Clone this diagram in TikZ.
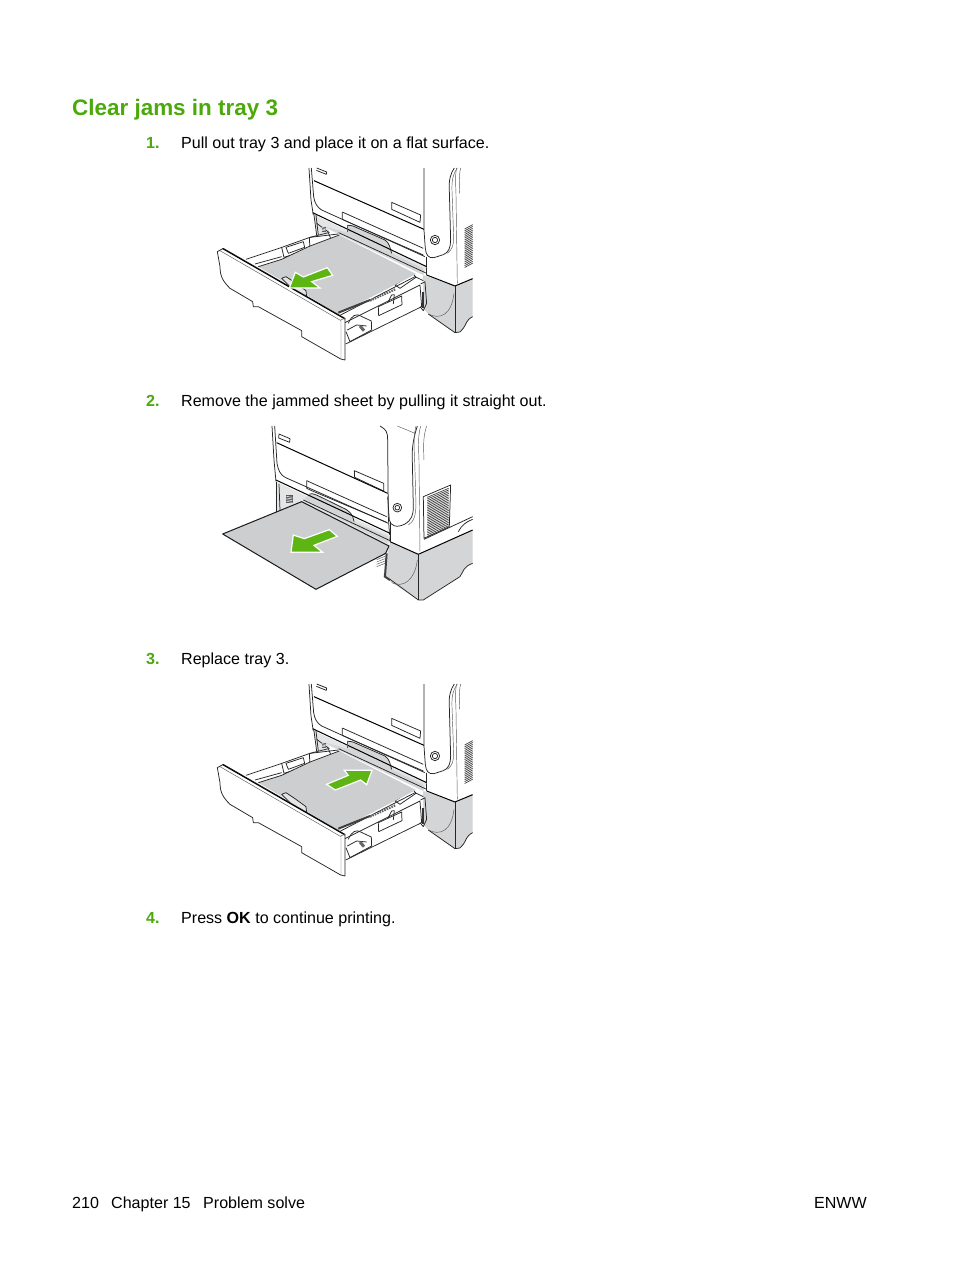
\documentclass[tikz,border=0pt]{standalone}
\usepackage{fontspec}
\setmainfont{Liberation Sans}
\definecolor{hpgreen}{HTML}{4BA90B}
\definecolor{arrowgreen}{HTML}{5CB512}
\definecolor{papergray}{HTML}{CDCECF}
\definecolor{basegray}{HTML}{D4D5D6}
\definecolor{lightband}{HTML}{E4E5E6}
\tikzset{
  bodytext/.style={anchor=base west,inner sep=0pt,font=\fontsize{16.07}{18}\selectfont},
  numtext/.style={anchor=base west,inner sep=0pt,text=hpgreen,font=\fontsize{16.07}{18}\selectfont\bfseries},
  titletext/.style={anchor=base west,inner sep=0pt,text=hpgreen,font=\fontsize{22.45}{26}\selectfont\bfseries},
  ln/.style={draw=black!85,line width=0.75pt,line join=round},
  thn/.style={draw=black!65,line width=0.45pt,line join=round},
  thk/.style={draw=black,line width=1.0pt,line join=round},
  vent/.style={draw=black!75,line width=0.7pt},
  greenarrow/.style={fill=arrowgreen,draw=white,line width=1.2pt,line join=miter},
}
\newcommand{\trayart}{%
  % lower base
  \path[fill=basegray] (640,345) -- (735,378) -- (788,356) -- (788,470) .. controls (768,480) and (768,495) .. (760,505) -- (750,516) -- (735,518) -- (655,462) -- (635,440) -- cycle;
  \draw[thk] (650,345) -- (735,378) -- (788,356);
  \draw[ln] (735,378) -- (735,518);
  \draw[ln] (655,462) -- (735,518) -- (750,516) -- (760,505) .. controls (768,495) and (768,480) .. (788,470);
  \draw[thn] (655,462) .. controls (690,480) and (725,465) .. (732,400);
  % printer front
  \draw[ln] (297,24) -- (303,120) -- (310,165);
  \draw[ln] (304,24) -- (311,110) .. controls (314,130) and (322,142) .. (335,150) -- (645,290);
  \draw[thk] (312,62) -- (642,208);
  \draw[ln] (642,24) -- (642,210) -- (646,265) .. controls (648,285) and (655,295) .. (672,293) -- (700,284) .. controls (716,278) and (722,262) .. (722,240) -- (718,90) .. controls (716,60) and (722,40) .. (733,24);
  \draw[thn] (712,280) .. controls (726,270) and (732,255) .. (731,230) -- (726,90) .. controls (725,60) and (730,40) .. (742,24);
  \draw[thn] (740,24) .. controls (735,45) and (737,70) .. (738,100) -- (742,370);
  \draw[thn] (752,24) .. controls (746,50) and (748,70) .. (749,100);
  \draw[ln] (650,290) -- (650,345);
  \draw[ln] (545,127) -- (632,165) -- (630,187) -- (545,148) -- cycle;
  \draw[ln] (320,24) -- (350,36) -- (349,43) -- (319,31);
  % recess
  \draw[ln] (397,156) -- (640,265);
  \draw[ln] (397,156) -- (397,178) -- (414,186) -- (640,285);
  \path[fill=lightband] (312,165) -- (650,320) -- (640,345) -- (322,192) -- cycle;
  \path[fill=lightband] (310,160) -- (358,190) -- (358,222) -- (322,232) -- cycle;
  \path[fill=basegray] (412,196) .. controls (425,195) and (435,200) .. (445,205) -- (525,240) .. controls (540,250) and (540,265) .. (545,280) -- (640,325) -- (640,345) -- (390,222) -- (340,198) -- (412,218) -- cycle;
  \draw[ln] (412,196) .. controls (425,195) and (435,200) .. (445,205) -- (525,240) .. controls (540,250) and (540,265) .. (545,280);
  \draw[thk] (308,158) -- (650,320);
  \draw[ln] (386,218) -- (650,340);
  \draw[thn] (412,196) -- (412,216);
  \draw[ln] (311,158) -- (320,225);
  \draw[ln] (318,165) -- (325,225);
  % button
  \draw[ln] (675,240) circle[radius=14];
  \draw[ln] (675,240) circle[radius=8];
  % vents
  \foreach \i in {0,...,21} {\draw[vent] ({764},{207+\i*5.5}) -- (788,{194+\i*5.5});}
  % tray right wall
  \path[fill=white] (405,480) -- (640,362) -- (638,440) -- (407,552) -- cycle;
  \draw[ln] (405,488) -- (630,375) -- (635,440) -- (407,552);
  \draw[ln] (390,466) -- (615,350) -- (640,362);
  \draw[ln] (632,372) -- (645,365) -- (650,430) -- (640,452) -- (630,440);
  \draw[line width=2pt,black!80] (640,395) -- (640,445);
  \draw[ln] (505,440) -- (575,408) -- (576,434) -- (506,467) -- cycle;
  \draw[ln] (535,425) -- (545,405) -- (553,404) -- (550,432);
  \draw[ln] (415,490) .. controls (425,465) and (440,460) .. (452,468) -- (484,483) -- (485,510) -- (420,545) -- (408,515);
  \draw[ln] (412,510) -- (440,495) -- (470,498);
  \draw[line width=3pt,black!60] (450,498) -- (462,512);
  \draw[ln] (555,375) -- (585,355) -- (610,342) -- (618,352) -- (570,385) -- cycle;
  % tray back and left
  \draw[ln] (108,298) -- (210,264) -- (300,232) -- (385,222);
  \draw[ln] (135,312) -- (215,290);
  \draw[ln] (320,190) -- (358,218);
  \fill[black!65] (335,200) rectangle (348,215);
  \foreach \i in {0,...,2} {\draw[white,line width=0.5pt] (336,{203+\i*4}) -- (347,{205+\i*4});}
  \draw[ln] (215,262) -- (222,292) -- (300,268) -- (298,232);
  \draw[ln] (228,262) -- (280,245) -- (284,262) -- (235,280) -- cycle;
  \draw[ln] (300,232) -- (355,218) -- (362,235);
  % paper
  \path[fill=papergray] \trayPaper;
  \draw[ln] (145,320) -- (215,298) -- (300,258) -- (388,225);
  \draw[line width=2pt,black!75] (385,458) -- (480,420);
  \draw[line width=2.2pt,black!60,dash pattern=on 1.6pt off 1pt] (480,422) -- (556,388);
  % tab
  \draw[ln,fill=lightband] (215,355) -- (228,350) -- (255,368) -- (288,392) -- (290,412) -- (250,390) -- cycle;
  % tray front panel
  \draw[ln,fill=white] (22,275) -- (40,265) -- (405,475) -- (405,600) -- (392,597) -- (275,530) -- (275,512) -- (145,440) -- (130,440) -- (128,425) -- (60,385) .. controls (40,365) and (30,350) .. (30,320) -- cycle;
  \draw[thn] (30,272) -- (393,482) -- (393,597);
  \draw[thk] (38,266) -- (405,477);
  \draw[thn] (392,480) -- (405,475);
}
\newcommand{\trayPaper}{(145,320) -- (215,298) -- (300,258) -- (388,225) -- (618,342) -- (385,462) -- cycle}
\begin{document}
\begin{tikzpicture}[x=1pt,y=-1pt]
\useasboundingbox (0,0) rectangle (954,1270);
\fill[white] (0,0) rectangle (954,1270);
\node[titletext] (title) at (72,115) {Clear jams in tray 3};
\node[numtext] (n1) at (146,148) {1.};
\node[bodytext] (t1) at (181,148) {Pull out tray 3 and place it on a flat surface.};
\node[numtext] (n2) at (146,406) {2.};
\node[bodytext] (t2) at (181,406) {Remove the jammed sheet by pulling it straight out.};
\node[numtext] (n3) at (146,664) {3.};
\node[bodytext] (t3) at (181,664) {Replace tray 3.};
\node[numtext] (n4) at (146,923) {4.};
\node[bodytext] (t4) at (181,923) {Press \textbf{OK} to continue printing.};
\node[bodytext] (f1) at (72,1208) {210};
\node[bodytext] (f2) at (111,1208) {Chapter 15};
\node[bodytext] (f3) at (203,1208) {Problem solve};
\node[bodytext,anchor=base east] (f4) at (867,1208) {ENWW};
% picture 1
\begin{scope}[shift={(210,160)},x=0.3333pt,y=-0.3333pt]
  \trayart
  \draw[greenarrow] (352,323) -- (368,346) -- (305,365) -- (330,384) -- (238,384) -- (256,337) -- (280,351) -- cycle;
\end{scope}
% picture 3
\begin{scope}[shift={(210,676)},x=0.3333pt,y=-0.3333pt]
  \trayart
  \draw[greenarrow] (350,325) -- (415,298) -- (403,283) -- (486,283) -- (470,326) -- (452,312) -- (376,342) -- cycle;
\end{scope}
% picture 2
\begin{scope}[shift={(210,420)},x=0.3333pt,y=-0.3333pt]
  \path[fill=basegray] (540,365) -- (625,403) -- (788,330) -- (788,430) .. controls (760,440) and (760,455) .. (750,470) -- (640,540) -- (625,540) -- (520,470) -- cycle;
  \draw[thk] (540,365) -- (625,403) -- (788,330);
  \draw[ln] (625,403) -- (625,540);
  \draw[ln] (540,478) -- (625,540) -- (640,540) -- (750,470) .. controls (760,455) and (760,440) .. (788,430);
  \draw[thn] (545,488) .. controls (580,505) and (615,480) .. (622,420);
  % printer front
  \draw[ln] (186,18) -- (192,120) -- (198,185);
  \draw[ln] (194,18) -- (201,130) .. controls (204,150) and (212,165) .. (225,172) -- (535,310);
  \draw[thk] (200,68) -- (533,220);
  \draw[ln] (510,18) .. controls (528,28) and (533,35) .. (533,60) -- (535,290) -- (540,365);
  \draw[ln] (540,310) -- (540,365);
  \draw[ln] (533,230) -- (538,300) .. controls (542,318) and (560,325) .. (585,312) .. controls (605,300) and (610,285) .. (610,260) -- (607,120) .. controls (605,80) and (612,50) .. (622,18);
  \draw[thn] (618,18) .. controls (610,50) and (612,80) .. (614,120) -- (618,250) .. controls (618,285) and (612,305) .. (595,315);
  \draw[thn] (632,18) .. controls (624,50) and (625,70) .. (627,120) -- (630,395);
  \draw[thn] (650,18) .. controls (640,50) and (640,70) .. (642,120);
  \draw[thn] (562,18) -- (615,40);
  \draw[ln] (642,355) -- (640,230) -- (722,195) -- (718,320) -- cycle;
  \draw[ln] (642,358) -- (788,290);
  \foreach \i in {0,...,23} {\draw[vent] (652,{232+\i*5.1}) -- (716,{205+\i*5.1});}
  \draw[ln] (745,335) .. controls (755,315) and (770,305) .. (788,298);
  \draw[ln] (433,152) -- (521,190) -- (521,213) -- (434,172) -- cycle;
  \draw[ln] (207,42) -- (240,56) -- (239,67) -- (206,54) -- cycle;
  \draw[ln] (290,182) -- (530,290);
  \draw[ln] (290,182) -- (290,205) -- (305,212) -- (530,307);
  \path[fill=lightband] (198,185) -- (540,345) -- (535,375) -- (280,250) -- (198,275) -- cycle;
  \path[fill=basegray] (298,222) .. controls (310,218) and (320,225) .. (395,262) .. controls (420,272) and (430,285) .. (432,305) -- (535,350) -- (532,370) -- (280,240) -- cycle;
  \draw[thk] (198,180) -- (540,340);
  \draw[ln] (280,240) -- (540,362);
  \draw[ln] (298,222) .. controls (310,218) and (320,225) .. (395,262) .. controls (420,272) and (430,285) .. (432,305);
  \draw[ln] (198,185) -- (198,275);
  \draw[ln] (207,192) -- (210,270);
  \fill[black!65] (228,225) rectangle (248,250);
  \foreach \i in {0,...,3} {\draw[white,line width=0.5pt] (229,{229+\i*5}) -- (247,{232+\i*5});}
  \draw[ln] (562,263) circle[radius=13];
  \draw[ln] (562,263) circle[radius=7];
  % bottom bits
  \draw[line width=2pt,black!75] (530,400) -- (525,470) -- (540,480);
  \foreach \i in {0,...,4} {\draw[thn] (500,{412+\i*7}) -- (525,{402+\i*7});}
  % paper
  \draw[fill=papergray,draw=black!90,line width=1pt,line join=round] (38,342) -- (275,245) -- (537,378) -- (527,400) -- (318,508) -- cycle;
  \draw[greenarrow] (358,329) -- (382,349) -- (312,376) -- (338,397) -- (243,397) -- (250,345) -- (283,356) -- cycle;
\end{scope}
\end{tikzpicture}
\end{document}
